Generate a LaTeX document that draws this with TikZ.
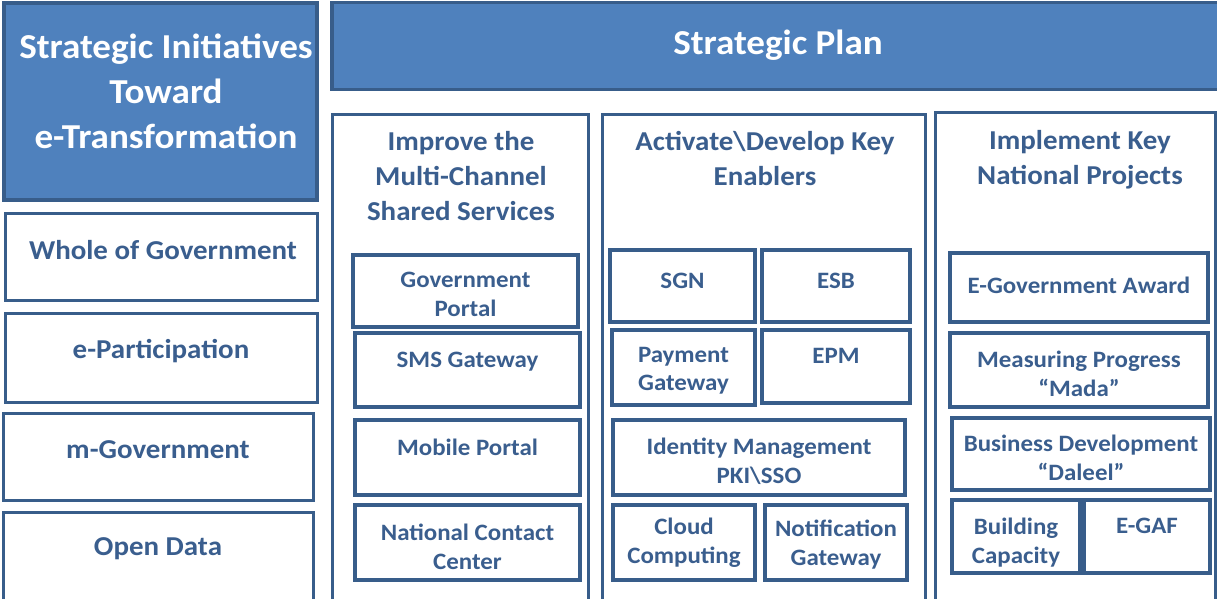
\documentclass[tikz,border=0pt]{standalone}
\usepackage{fontspec}
\setmainfont{Carlito}[FakeStretch=1.06]
\usepackage{tikz}
\usetikzlibrary{positioning}
\definecolor{planblue}{HTML}{4F81BD}
\definecolor{planedge}{HTML}{385D8A}
\definecolor{plantext}{HTML}{3A5E8E}
\tikzstyle{bluebox}=[fill=planblue, draw=planedge, line width=3.5pt, inner sep=0pt]
\tikzstyle{column}=[fill=white, draw=planedge, line width=3pt, inner sep=0pt]
\tikzstyle{cell}=[fill=white, draw=planedge, line width=4pt, inner sep=0pt]
\tikzstyle{titletext}=[text=white, font=\fontsize{35}{45}\selectfont\bfseries, align=center, inner sep=0pt]
\tikzstyle{headtext}=[text=plantext, font=\fontsize{27.3}{35}\selectfont\bfseries, align=center, inner sep=0pt]
\tikzstyle{celltext}=[text=plantext, font=\fontsize{23.5}{28.5}\selectfont\bfseries, align=center, inner sep=0pt]

\begin{document}
\begin{tikzpicture}[x=1pt, y=-1pt]
    \useasboundingbox (0,0) rectangle (1217,599);
    \clip (0,0) rectangle (1217,599);
    % left side
    \node [style=bluebox, minimum width=313pt, minimum height=197pt] (initiatives) at (160.5, 101.5) {};
    \node [style=titletext] (initiativestext) at (166, 91) {Strategic Initiatives\\Toward\\e-Transformation};
    \node [style=column, minimum width=312pt, minimum height=87pt] (wog) at (161, 256.5) {};
    \node [style=column, minimum width=312pt, minimum height=89pt] (epart) at (161, 357.5) {};
    \node [style=column, minimum width=310pt, minimum height=87pt] (mgov) at (158, 456.5) {};
    \node [style=column, minimum width=310pt, minimum height=93pt] (opendata) at (158, 558.5) {};
    \node [style=headtext] (wogtext) at (163, 250) {Whole of Government};
    \node [style=headtext] (eparttext) at (161, 351) {e-Participation};
    \node [style=headtext] (mgovtext) at (158, 450) {m-Government};
    \node [style=headtext] (opendatatext) at (158, 549) {Open Data};
    % strategic plan
    \node [style=bluebox, minimum width=890pt, minimum height=87pt] (plan) at (777, 46) {};
    \node [style=titletext] (plantitle) at (778, 45) {Strategic Plan};
    % columns
    \node [style=column, minimum width=256pt, minimum height=505pt] (services) at (460, 367.5) {};
    \node [style=column, minimum width=323pt, minimum height=505pt] (enablers) at (763.5, 367.5) {};
    \node [style=column, minimum width=280pt, minimum height=507pt] (projects) at (1075, 366.5) {};
    \node [style=headtext] (servicestext) at (461, 176) {Improve the\\Multi-Channel\\Shared Services};
    \node [style=headtext] (enablerstext) at (765, 158.5) {Activate\textbackslash Develop Key\\Enablers};
    \node [style=headtext] (projectstext) at (1080, 159.5) {Implement Key\\National Projects};
    % multi-channel shared services
    \node [style=cell, minimum width=225pt, minimum height=72pt] (gportal) at (465.5, 291) {};
    \node [style=cell, minimum width=225pt, minimum height=74pt] (sms) at (467.5, 370) {};
    \node [style=cell, minimum width=225pt, minimum height=75pt] (mportal) at (467.5, 457.5) {};
    \node [style=cell, minimum width=225pt, minimum height=75pt] (ncc) at (467.5, 542.5) {};
    \node [style=celltext, below=19pt of gportal.north] (gportaltext) {Government\\Portal};
    \node [style=celltext, below=21pt of sms.north] (smstext) {SMS Gateway};
    \node [style=celltext, below=21pt of mportal.north] (mportaltext) {Mobile Portal};
    \node [style=celltext, below=21pt of ncc.north] (ncctext) {National Contact\\Center};
    % key enablers
    \node [style=cell, minimum width=145pt, minimum height=72pt] (sgn) at (682.5, 286) {};
    \node [style=cell, minimum width=148pt, minimum height=72pt] (esb) at (836, 286) {};
    \node [style=cell, minimum width=143pt, minimum height=75pt] (payment) at (683.5, 367.5) {};
    \node [style=cell, minimum width=148pt, minimum height=73pt] (epm) at (836, 366.5) {};
    \node [style=cell, minimum width=292pt, minimum height=75pt] (identity) at (759, 457.5) {};
    \node [style=cell, minimum width=142pt, minimum height=75pt] (cloud) at (684, 542.5) {};
    \node [style=cell, minimum width=142pt, minimum height=75pt] (notification) at (836, 542.5) {};
    \node [style=celltext, below=25pt of sgn.north] (sgntext) {SGN};
    \node [style=celltext, below=25pt of esb.north] (esbtext) {ESB};
    \node [style=celltext, below=19pt of payment.north] (paymenttext) {Payment\\Gateway};
    \node [style=celltext, below=20pt of epm.north] (epmtext) {EPM};
    \node [style=celltext, below=20pt of identity.north] (identitytext) {Identity Management\\PKI\textbackslash SSO};
    \node [style=celltext, below=15pt of cloud.north] (cloudtext) {Cloud\\Computing};
    \node [style=celltext, below=17pt of notification.north] (notificationtext) {Notification\\Gateway};
    % national projects
    \node [style=cell, minimum width=258pt, minimum height=69pt] (award) at (1079, 287.5) {};
    \node [style=cell, minimum width=258pt, minimum height=74pt] (mada) at (1079, 370) {};
    \node [style=cell, minimum width=258pt, minimum height=72pt] (daleel) at (1081, 454) {};
    \node [style=cell, minimum width=128pt, minimum height=73pt] (capacity) at (1016, 536.5) {};
    \node [style=cell, minimum width=126pt, minimum height=73pt] (egaf) at (1147, 536.5) {};
    \node [style=celltext, below=26pt of award.north] (awardtext) {E-Government Award};
    \node [style=celltext, below=20pt of mada.north] (madatext) {Measuring Progress\\``Mada''};
    \node [style=celltext, below=19pt of daleel.north] (daleeltext) {Business Development\\``Daleel''};
    \node [style=celltext, below=20pt of capacity.north] (capacitytext) {Building\\Capacity};
    \node [style=celltext, below=20pt of egaf.north] (egaftext) {E-GAF};
\end{tikzpicture}
\end{document}
